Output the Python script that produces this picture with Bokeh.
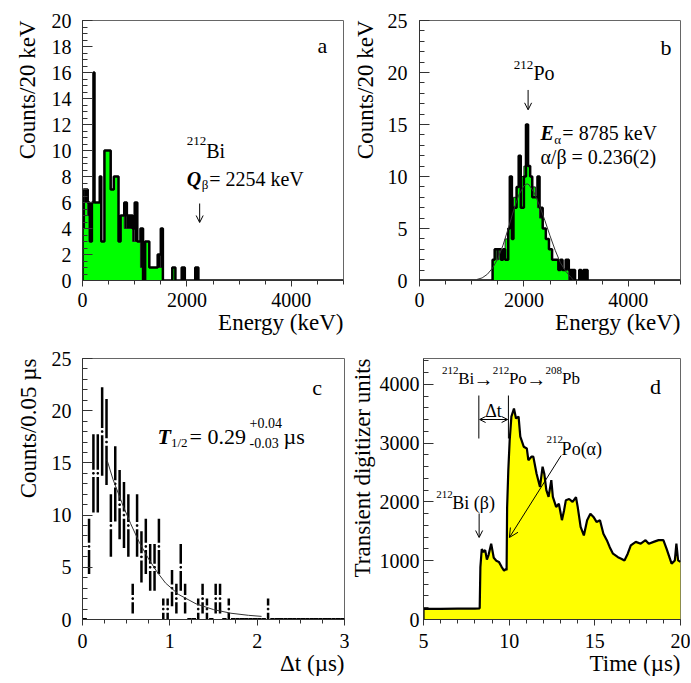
import math
from bokeh.plotting import figure
from bokeh.layouts import column, row
from bokeh.models import Label, Arrow, OpenHead, SingleIntervalTicker, Range1d, Title
from bokeh.embed import file_html
from bokeh.resources import INLINE

FONT = "Liberation Serif"
GREEN = "#00ff00"
YELLOW = "#ffff00"

# ---------------- data ----------------
# panel a: 212Bi beta spectrum (bin edges in keV, counts)
a_edges = [0, 20, 40, 100, 140, 180, 210, 230, 330, 360,
           420, 540, 600, 690, 730, 800, 850, 960, 1000, 1050,
           1110, 1160, 1200, 1280, 1440, 1500, 1540, 1720, 1780, 1900,
           1960, 2160, 2220, 5000]
a_green = [4, 4, 6, 5, 5, 6, 6, 6, 6, 3,
           10, 7, 8, 5, 5, 4, 4, 3, 3, 3,
           1, 0, 3, 1, 1, 1, 0, 1, 0, 0,
           0, 0, 0]
a_black = [4, 7, 7, 6, 3, 6, 16, 6, 8, 3,
           10, 7, 8, 3, 5, 6, 5, 4, 6, 3,
           4, 0, 3, 1, 2, 4, 0, 1, 0, 1,
           0, 1, 0]

# panel b: 212Po alpha peak
b_edges = [0, 1400, 1440, 1480, 1520, 1560, 1600, 1640, 1700, 1730,
           1770, 1800, 1860, 1900, 1940, 2000, 2040, 2080, 2120, 2160,
           2220, 2260, 2300, 2360, 2420, 2480, 2540, 2600, 2660, 2700,
           2740, 2800, 2860, 2980, 3060, 3100, 3140, 3220, 5000]
b_green = [0, 2, 3, 2, 3, 3, 3, 4, 5, 6,
           7, 8, 9, 9, 10, 11, 11, 11, 10, 9,
           8, 7, 6, 5, 4, 3, 2, 2, 1, 1,
           1, 1, 0, 0, 0, 0, 0, 0]
b_black = [0, 2, 3, 3, 3, 2, 3, 2, 5, 10,
           4, 7, 9, 12, 7, 10, 15, 11, 10, 8,
           8, 10, 7, 5, 4, 3, 2, 2, 1, 2,
           1, 2, 1, 0, 1, 0, 1, 0]
b_fit_e = [1100, 1200, 1300, 1400, 1500, 1600, 1700, 1800, 1900, 2000, 2060,
           2100, 2200, 2300, 2400, 2500, 2600, 2700, 2800, 2900, 2950]
b_fit_c = [0.1, 0.25, 0.6, 1.2, 2.1, 3.4, 5.0, 6.7, 8.2, 9.1, 9.3,
           9.2, 8.4, 7.2, 5.8, 4.3, 2.9, 1.7, 0.9, 0.3, 0.05]

# panel c: time differences, 0.05 us bins from 0 to 3 us
c_bin_width = 0.05
c_counts = [0, 7, 14, 14, 18, 17, 9, 13, 11, 10,
            9, 2, 9, 6, 7, 5, 5, 7, 1, 1,
            3, 2, 5, 2, 0, 0, 1, 2, 1, 0,
            2, 2, 0, 1, 0, 0, 0, 0, 0, 0,
            0, 0, 1, 0, 0, 0, 0, 0, 0, 0,
            0, 0, 0, 0, 0, 0, 0, 0, 0, 0]
c_fit_t = [0.28, 0.35, 0.45, 0.55, 0.65, 0.75, 0.85, 0.95, 1.1, 1.3, 1.5, 1.7, 1.9, 2.05]
c_fit_c = [15.3, 13.4, 11.2, 9.2, 7.4, 5.9, 4.6, 3.5, 2.4, 1.5, 0.95, 0.6, 0.4, 0.3]

# panel d: digitized pulse
d_time = [5.0, 5.0, 6.0, 7.0, 8.0, 8.28,
          8.32, 8.4, 8.5, 8.6, 8.7, 8.8, 8.95, 9.1, 9.25, 9.4, 9.55, 9.7, 9.8, 9.85,
          9.88, 9.95, 10.03, 10.13, 10.28, 10.4, 10.55, 10.65, 10.85, 11.03,
          11.12, 11.3, 11.41, 11.6, 11.8, 11.95, 12.05, 12.17, 12.3, 12.46,
          12.55, 12.74, 12.9, 13.08, 13.2, 13.31, 13.5, 13.7, 13.9, 14.0,
          14.17, 14.36, 14.55, 14.74, 14.92, 15.1, 15.3, 15.5, 15.7, 15.87,
          16.06, 16.35, 16.54, 16.73, 16.92, 17.1, 17.39, 17.68, 17.96, 18.15,
          18.43, 18.72, 19.0, 19.19, 19.48, 19.67, 19.76, 19.86, 20.0]
d_signal = [0, 180, 180, 185, 185, 190,
            890, 1200, 1150, 1180, 1020, 1100, 1290, 1050, 1000, 980, 900, 830, 860, 840,
            1900, 2540, 3050, 3450, 3590, 3420, 3450, 3110, 2940, 2910,
            2710, 2770, 2770, 2480, 2255, 2600, 2480, 2200, 2085, 2370,
            2085, 1915, 1970, 1690, 1850, 2030, 2050, 2000, 2080, 1915,
            1575, 1430, 1690, 1800, 1745, 1660, 1690, 1460, 1350, 1230,
            1120, 1060, 1035, 1005, 1120, 1260, 1320, 1290, 1350, 1290,
            1320, 1350, 1350, 1200, 950, 1005, 1290, 1005, 980]

# ---------------- helpers ----------------
# reference frame geometry (page px) -> data ranges, used to place annotations
SPEC_A = (81.5, 343.25, 20, 280, 0, 5000, 0, 20)
SPEC_B = (419, 680.25, 18, 280, 0, 5000, 0, 25)
SPEC_C = (82, 344, 357, 619, 0, 3, 0, 25)
SPEC_D = (419, 682.3, 358, 619, 5, 20, 0, 4440)


def to_data(spec, px, py):
    L, R, T, B, x0, x1, y0, y1 = spec
    return x0 + (px - L) / (R - L) * (x1 - x0), y0 + (B - py) / (B - T) * (y1 - y0)


def text(p, spec, px, py, s, size, style="normal", align="left"):
    x, y = to_data(spec, px, py)
    p.add_layout(Label(x=x, y=y, text=s, text_font=FONT, text_font_size=f"{size}px",
                       text_font_style=style, text_align=align,
                       text_baseline="alphabetic", text_color="black"))


def arrow(p, spec, p0, p1, both=False, size=7):
    xa, ya = to_data(spec, *p0)
    xb, yb = to_data(spec, *p1)
    kw = dict(end=OpenHead(size=size, line_width=1, line_color="black"),
              x_start=xa, y_start=ya, x_end=xb, y_end=yb,
              line_width=1, line_color="black")
    if both:
        kw["start"] = OpenHead(size=size, line_width=1, line_color="black")
    p.add_layout(Arrow(**kw))


def step_xy(edges, vals):
    xs, ys = [edges[0]], [0]
    for i, v in enumerate(vals):
        xs += [edges[i], edges[i + 1]]
        ys += [v, v]
    xs.append(edges[-1])
    ys.append(0)
    return xs, ys


def make_fig(width, height, xr, yr, mb):
    p = figure(width=width, height=height, x_range=Range1d(*xr), y_range=Range1d(*yr),
               output_backend="svg", toolbar_location=None,
               min_border_left=mb[0], min_border_right=mb[1],
               min_border_top=mb[2], min_border_bottom=mb[3])
    p.grid.visible = False
    p.outline_line_color = "#666666"
    p.outline_line_width = 1
    p.background_fill_color = "white"
    p.border_fill_color = "white"
    return p


def style_axes(p, xint, xminor, yint, yminor, xlab_standoff, ylab_standoff):
    xa, ya = p.xaxis[0], p.yaxis[0]
    xa.ticker = SingleIntervalTicker(interval=xint, num_minor_ticks=xminor)
    ya.ticker = SingleIntervalTicker(interval=yint, num_minor_ticks=yminor)
    for ax in (xa, ya):
        ax.axis_line_color = "#333333"
        ax.major_tick_line_color = "#333333"
        ax.minor_tick_line_color = "#333333"
        ax.major_label_text_font = FONT
        ax.major_label_text_font_size = "20px"
        ax.major_label_text_color = "black"
    xa.major_tick_out = 6
    xa.major_tick_in = 0
    xa.minor_tick_out = 4
    xa.minor_tick_in = 0
    xa.major_label_standoff = xlab_standoff
    ya.major_tick_in = 10
    ya.major_tick_out = 0
    ya.minor_tick_in = 5
    ya.minor_tick_out = 0
    ya.major_label_standoff = ylab_standoff


def titles(p, xtitle, ytitle, ystandoff):
    common = dict(text_font=FONT, text_font_size="23px", text_font_style="normal",
                  text_color="black", align="right")
    p.add_layout(Title(text=xtitle, vertical_align="top", standoff=0, **common), "below")
    p.add_layout(Title(text=ytitle, vertical_align="top", standoff=ystandoff, **common), "left")


def draw_hist(p, edges, green, black):
    n = len(green)
    left, right = edges[:-1], edges[1:]
    gx, gy = step_xy(edges, green)
    p.varea(x=gx, y1=[0] * len(gx), y2=gy, fill_color=GREEN)
    over = [i for i in range(n) if black[i] > green[i]]
    p.quad(left=[left[i] for i in over], right=[right[i] for i in over],
           bottom=[green[i] for i in over], top=[black[i] for i in over],
           fill_color="black", line_color=None)
    p.line(gx, gy, line_color="#222222", line_width=1)
    bx, by = step_xy(edges, black)
    p.line(bx, by, line_color="black", line_width=2.5)


# ---------------- panel a ----------------
pa = make_fig(345, 340, (0, 5000), (0, 20), (82, 2, 20, 60))
draw_hist(pa, a_edges, a_green, a_black)
style_axes(pa, 2000, 4, 2, 4, 6, 11)
titles(pa, "Energy (keV)", "Counts/20 keV", 13)
text(pa, SPEC_A, 186, 140.5, "212", 13)
text(pa, SPEC_A, 205.5, 150, "Bi", 20)
text(pa, SPEC_A, 186, 178, "Q", 20, "bold italic")
text(pa, SPEC_A, 201, 184, "β", 13)
text(pa, SPEC_A, 208.5, 178, "= 2254 keV", 20)
arrow(pa, SPEC_A, (199, 203), (199, 222), size=7)
text(pa, SPEC_A, 322, 45, "a", 22, align="center")

# ---------------- panel b ----------------
pb = make_fig(338, 340, (0, 5000), (0, 25), (74, 3, 18, 60))
draw_hist(pb, b_edges, b_green, b_black)
pb.line(b_fit_e, b_fit_c, line_color="#333333", line_width=1)
style_axes(pb, 2000, 4, 5, 5, 6, 12)
titles(pb, "Energy (keV)", "Counts/20 keV", 10)
text(pb, SPEC_B, 513.3, 63, "212", 13)
text(pb, SPEC_B, 533, 70.7, "Po", 20)
arrow(pb, SPEC_B, (527.7, 88), (527.7, 108), size=7)
text(pb, SPEC_B, 540, 131.7, "E", 20, "bold italic")
text(pb, SPEC_B, 554, 138, "α", 13)
text(pb, SPEC_B, 562, 131.7, "= 8785 keV", 20)
text(pb, SPEC_B, 540, 156, "α/β = 0.236(2)", 20)
text(pb, SPEC_B, 665.7, 45, "b", 22, align="center")

# ---------------- panel c ----------------
pc = make_fig(349, 342, (0, 3), (0, 25), (82, 5, 17, 63))
centers = [(i + 0.5) * c_bin_width for i in range(len(c_counts))]
nz = [i for i, v in enumerate(c_counts) if v > 0]
zero = [i for i, v in enumerate(c_counts) if v == 0]
gap = 0.35
xs = [centers[i] for i in nz]
vs = [c_counts[i] for i in nz]
errs = [math.sqrt(v) for v in vs]
pc.segment(x0=xs, y0=[v + gap for v in vs], x1=xs, y1=[v + e for v, e in zip(vs, errs)],
           line_color="black", line_width=2.5)
pc.segment(x0=xs, y0=[v - e for v, e in zip(vs, errs)], x1=xs, y1=[v - gap for v in vs],
           line_color="black", line_width=2.5)
pc.scatter(xs, vs, marker="square", size=1.5, color="black")
pc.segment(x0=[centers[i] - c_bin_width / 2 for i in zero], y0=[0] * len(zero),
           x1=[centers[i] + c_bin_width / 2 for i in zero], y1=[0] * len(zero),
           line_color="black", line_width=3)
pc.line(c_fit_t, c_fit_c, line_color="#333333", line_width=1)
style_axes(pc, 1, 4, 5, 5, 8, 11)
titles(pc, "Δt (µs)", "Counts/0.05 µs", 11)
text(pc, SPEC_C, 157, 435, "T", 22, "bold italic")
text(pc, SPEC_C, 170.5, 441.5, "1/2", 13)
text(pc, SPEC_C, 189, 435, "= 0.29", 22)
text(pc, SPEC_C, 249, 421.7, "+0.04", 14)
text(pc, SPEC_C, 249, 441.5, "-0.03", 14)
text(pc, SPEC_C, 283, 435, "µs", 22)
text(pc, SPEC_C, 316.7, 385.7, "c", 22, align="center")

# ---------------- panel d ----------------
pd = make_fig(341, 342, (5, 20), (0, 4440), (70, 10, 18, 63))
pd.varea(x=d_time, y1=[0] * len(d_time), y2=d_signal, fill_color=YELLOW)
pd.line(d_time, d_signal, line_color="black", line_width=2.2)
style_axes(pd, 5, 5, 1000, 5, 8, 4)
titles(pd, "Time (µs)", "Transient digitizer units", 0)
# decay chain label
for px, py, s, sz in [(438, 370, "212", 11), (454.5, 378, "Bi", 17),
                      (490, 370, "212", 11), (506.5, 378, "Po", 17),
                      (544, 370, "208", 11), (561, 378, "Pb", 17)]:
    text(pd, SPEC_D, px, py, s, sz)
for px in (480.5, 534.5):
    text(pd, SPEC_D, px, 378, "→", 20, align="center")
text(pd, SPEC_D, 656.7, 385.7, "d", 22, align="center")
# delta-t bracket
for bx in (475.7, 506.0):
    xa_, ya_ = to_data(SPEC_D, bx, 395)
    xb_, yb_ = to_data(SPEC_D, bx, 438)
    pd.segment(x0=[xa_], y0=[ya_], x1=[xb_], y1=[yb_], line_color="black", line_width=1)
arrow(pd, SPEC_D, (476.5, 419), (505.2, 419), both=True, size=6)
text(pd, SPEC_D, 490.7, 410, "Δt", 18, align="center")
text(pd, SPEC_D, 432, 494, "212", 11)
text(pd, SPEC_D, 448.5, 502, "Bi (β)", 18)
arrow(pd, SPEC_D, (476, 513), (476, 537), size=7)
text(pd, SPEC_D, 545, 439, "212", 11)
text(pd, SPEC_D, 560.5, 448, "Po(α)", 18)
arrow(pd, SPEC_D, (560, 455), (507, 537), size=9)

layout = column(row(pa, pb), row(pc, pd))
open("out.html", "w").write(file_html(layout, INLINE))
